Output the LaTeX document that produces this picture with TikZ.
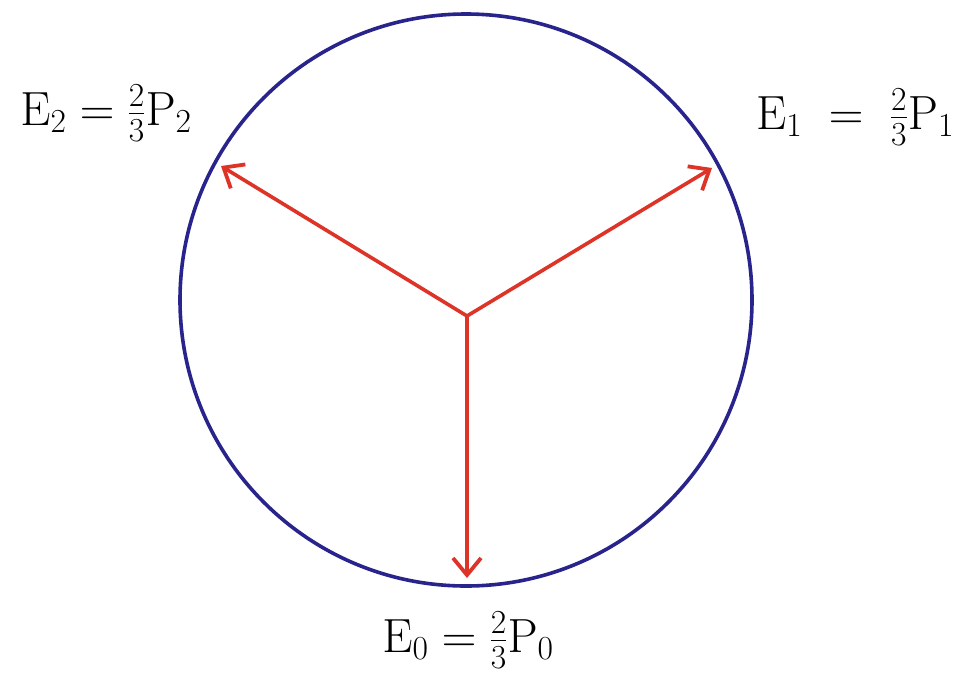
\RequirePackage{fix-cm}
\documentclass[tikz,border=0pt]{standalone}
\usepackage{amsmath}
\usetikzlibrary{arrows.meta}
\definecolor{ringblue}{RGB}{40,36,140}
\definecolor{vecred}{RGB}{222,52,40}
\begin{document}
\begin{tikzpicture}[x=1pt,y=-1pt,
  ring/.style={draw=ringblue,line width=3.6pt},
  vec/.style={draw=vecred,line width=3.6pt,-{Straight Barb[length=17pt,width=28pt,line width=3.8pt]}},
  lab/.style={font=\fontsize{48}{54}\selectfont,inner sep=0pt}]
\useasboundingbox[fill=white] (0,0) rectangle (971,675);
\node[ring,circle,minimum size=572pt,inner sep=0pt] (circ) at (466,300) {};
\coordinate (o) at (467,316);
\coordinate (t2) at (221,166);
\coordinate (t1) at (712,168);
\coordinate (t0) at (467,578);
\draw[vec] (o) -- (t2);
\draw[vec] (o) -- (t1);
\draw[vec] (o) -- (t0);
\node[lab] (l2) at (106,113) {$\mathrm{E}_2=\tfrac{2}{3}\mathrm{P}_2$};
\node[lab] (l1) at (855,117) {$\mathrm{E}_1\;=\;\tfrac{2}{3}\mathrm{P}_1$};
\node[lab] (l0) at (468,640) {$\mathrm{E}_0=\tfrac{2}{3}\mathrm{P}_0$};
\end{tikzpicture}
\end{document}
